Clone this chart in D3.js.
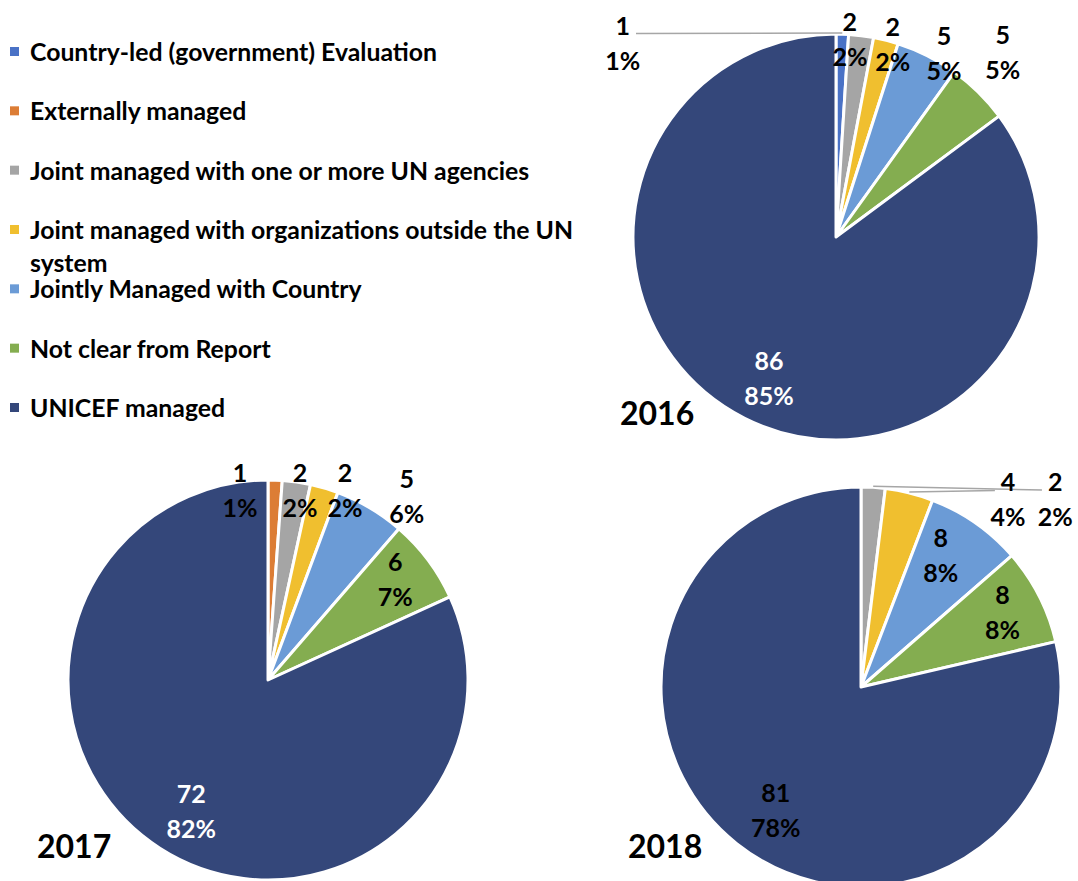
<!DOCTYPE html>
<html>
<head>
<meta charset="utf-8">
<script src="https://cdn.jsdelivr.net/npm/d3@7"></script>
<style>
  html, body { margin: 0; padding: 0; background: #fff; }
  svg { display: block; }
  text { font-family: Lato, "Open Sans", sans-serif; font-weight: bold; fill: #000; }
</style>
</head>
<body>
<svg id="chart" width="1078" height="881"></svg>
<script>
// ---------------- DATA ----------------
const categories = [
  "Country-led (government) Evaluation",
  "Externally managed",
  "Joint managed with one or more UN agencies",
  "Joint managed with organizations outside the UN system",
  "Jointly Managed with Country",
  "Not clear from Report",
  "UNICEF managed"
];
const years = ["2016", "2017", "2018"];
const values2016 = [1, 0, 2, 2, 5, 5, 86];
const values2017 = [0, 1, 2, 2, 5, 6, 72];
const values2018 = [0, 0, 2, 4, 8, 8, 81];
const pct2016 = ["1%", "", "2%", "2%", "5%", "5%", "85%"];
const pct2017 = ["", "1%", "2%", "2%", "6%", "7%", "82%"];
const pct2018 = ["", "", "2%", "4%", "8%", "8%", "78%"];

// ---------------- STYLE / LAYOUT ----------------
const colors = ["#4a72c6", "#dc7d35", "#a5a5a5", "#f0bf2f", "#6b9bd6", "#84ad50", "#34477a"];
const legendLines = [
  ["Country-led (government) Evaluation"],
  ["Externally managed"],
  ["Joint managed with one or more UN agencies"],
  ["Joint managed with organizations outside the UN", "system"],
  ["Jointly Managed with Country"],
  ["Not clear from Report"],
  ["UNICEF managed"]
];
// label placement: [angle offset from slice middle (deg), radius factor, leader?]
const layouts = [
  { cx: 836, cy: 237, r: 203, title: [620, 425],
    labels: [[-49.5, 1.42, true], null, [-3.1, 0.973], [2.2, 0.987], [3.7, 1.05], [-2.4, 1.224], [-1.3, 0.77]],
    mainLabelColor: "#fff" },
  { cx: 268, cy: 680, r: 200, title: [37, 858],
    labels: [null, [-10.4, 0.96], [1.4, 0.96], [5.7, 1.025], [6.4, 1.15], [-1.4, 0.81], [-2.4, 0.76]],
    mainLabelColor: "#fff" },
  { cx: 861, cy: 687, r: 200, title: [628, 858],
    labels: [null, null, [42.5, 1.35, true], [24.2, 1.19, true], [-3.75, 0.77], [-0.7, 0.80], [-3.8, 0.75]],
    mainLabelColor: "#000" }
];

const allValues = [values2016, values2017, values2018];
const allPct = [pct2016, pct2017, pct2018];

const svg = d3.select("#chart");
svg.append("rect").attr("width", 1078).attr("height", 881).attr("fill", "#fff");

// ---------------- LEGEND ----------------
const legendY = d3.scaleLinear().domain([0, 6]).range([52, 408]);
const legend = svg.append("g");
categories.forEach((c, i) => {
  const y = legendY(i);
  legend.append("rect").attr("x", 10).attr("y", y - 5).attr("width", 9).attr("height", 9).attr("fill", colors[i]);
  legendLines[i].forEach((line, j) => {
    legend.append("text").attr("x", 30).attr("y", y + j * 33).attr("dy", "0.36em")
      .attr("font-size", 24.8).text(line);
  });
});

// ---------------- PIES ----------------
const pie = d3.pie().sort(null).value(d => d);
const fontLabel = 25;

years.forEach((yr, k) => {
  const L = layouts[k];
  const vals = allValues[k];
  const pcts = allPct[k];
  const arcs = pie(vals);
  const arc = d3.arc().innerRadius(0).outerRadius(L.r);
  const g = svg.append("g").attr("transform", `translate(${L.cx},${L.cy})`);

  g.selectAll("path").data(arcs.filter(a => a.value > 0)).enter().append("path")
    .attr("d", arc)
    .attr("fill", d => colors[d.index])
    .attr("stroke", "#fff")
    .attr("stroke-width", 3)
    .attr("stroke-linejoin", "round");

  arcs.forEach((a, i) => {
    const cfg = L.labels[i];
    if (!cfg || a.value === 0) return;
    const mid = (a.startAngle + a.endAngle) / 2;
    const ang = mid + cfg[0] * Math.PI / 180;
    const lx = Math.sin(ang) * cfg[1] * L.r;
    const ly = -Math.cos(ang) * cfg[1] * L.r;
    const col = i === 6 ? L.mainLabelColor : "#000";
    const t1 = g.append("text").attr("x", lx).attr("y", ly - 17.5).attr("dy", "0.36em")
      .attr("text-anchor", "middle").attr("font-size", fontLabel).style("fill", col).text(vals[i]);
    g.append("text").attr("x", lx).attr("y", ly + 17.5).attr("dy", "0.36em")
      .attr("text-anchor", "middle").attr("font-size", fontLabel).style("fill", col).text(pcts[i]);
    if (cfg[2]) {
      const px = Math.sin(mid) * L.r;
      const py = -Math.cos(mid) * L.r;
      const w = t1.node().getComputedTextLength();
      const side = lx < px ? 1 : -1;
      const ex = lx + side * (w / 2 + 6);
      const ey = ly - 17.5 + 8;
      g.insert("line", "text").attr("x1", px).attr("y1", py - 1).attr("x2", ex).attr("y2", ey)
        .attr("stroke", "#a6a6a6").attr("stroke-width", 1.5);
    }
  });

  svg.append("text").attr("x", L.title[0]).attr("y", L.title[1])
    .attr("font-size", 32).text(yr);
});
</script>
</body>
</html>
